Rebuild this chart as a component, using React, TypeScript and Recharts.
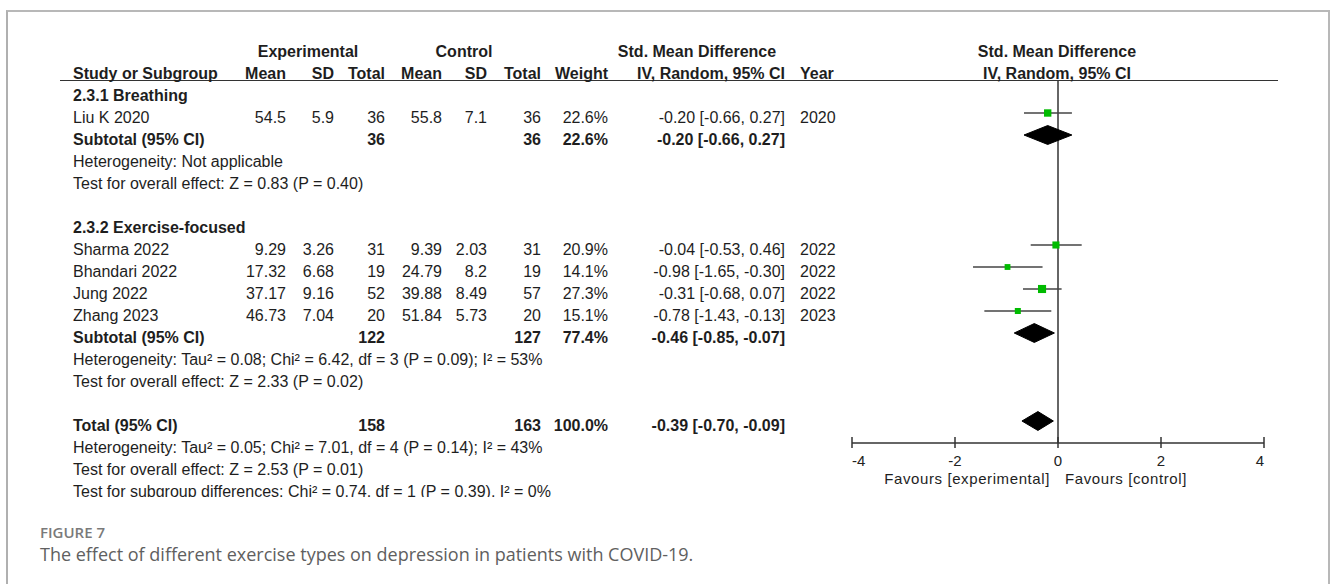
import React from 'react';
import { ComposedChart, Scatter, ErrorBar, XAxis, YAxis, ReferenceLine } from 'recharts';

// study level data
const studyNames = ['Liu K 2020', 'Sharma 2022', 'Bhandari 2022', 'Jung 2022', 'Zhang 2023'];
const studyGroup = [0, 1, 1, 1, 1];
const expMean = [54.5, 9.29, 17.32, 37.17, 46.73];
const expSD = [5.9, 3.26, 6.68, 9.16, 7.04];
const expN = [36, 31, 19, 52, 20];
const ctrlMean = [55.8, 9.39, 24.79, 39.88, 51.84];
const ctrlSD = [7.1, 2.03, 8.2, 8.49, 5.73];
const ctrlN = [36, 31, 19, 57, 20];
const weights = [22.6, 20.9, 14.1, 27.3, 15.1];
const smd = [-0.2, -0.04, -0.98, -0.31, -0.78];
const ciLow = [-0.66, -0.53, -1.65, -0.68, -1.43];
const ciHigh = [0.27, 0.46, -0.3, 0.07, -0.13];
const years = [2020, 2022, 2022, 2022, 2023];

// subgroups
const groupNames = ['2.3.1 Breathing', '2.3.2 Exercise-focused'];
const groupExpN = [36, 122];
const groupCtrlN = [36, 127];
const groupWeight = [22.6, 77.4];
const groupSmd = [-0.2, -0.46];
const groupLow = [-0.66, -0.85];
const groupHigh = [0.27, -0.07];
const groupHet = [
  'Heterogeneity: Not applicable',
  'Heterogeneity: Tau² = 0.08; Chi² = 6.42, df = 3 (P = 0.09); I² = 53%',
];
const groupTest = ['Test for overall effect: Z = 0.83 (P = 0.40)', 'Test for overall effect: Z = 2.33 (P = 0.02)'];

// overall
const totalExpN = 158;
const totalCtrlN = 163;
const totalWeight = 100.0;
const totalSmd = -0.39;
const totalLow = -0.7;
const totalHigh = -0.09;
const totalNotes = [
  'Heterogeneity: Tau² = 0.05; Chi² = 7.01, df = 4 (P = 0.14); I² = 43%',
  'Test for overall effect: Z = 2.53 (P = 0.01)',
  'Test for subgroup differences: Chi² = 0.74, df = 1 (P = 0.39), I² = 0%',
];

const xTicks = [-4, -2, 0, 2, 4];

const FONT = '"Liberation Sans", Arial, sans-serif';
const ROW0 = 96;
const ROW_H = 22;
const COL = { label: 73, eMean: 286, eSD: 334, eN: 385, cMean: 442, cSD: 487, cN: 541, weight: 608, ci: 785, year: 800 };
const PLOT_MID = 1057;

type Cell = { text: string; x: number; row: number; align: 'left' | 'right' | 'center'; bold?: boolean };

const fmtCI = (m: number, lo: number, hi: number) => `${m.toFixed(2)} [${lo.toFixed(2)}, ${hi.toFixed(2)}]`;
const pct = (w: number) => `${w.toFixed(1)}%`;

const cells: Cell[] = [];
const studyPoints: any[] = [];
const diamonds: { row: number; lo: number; pt: number; hi: number }[] = [];

const add = (text: string, x: number, row: number, align: Cell['align'], bold = false) =>
  cells.push({ text, x, row, align, bold });

// header
add('Experimental', 308, -2, 'center', true);
add('Control', 464, -2, 'center', true);
add('Std. Mean Difference', 697, -2, 'center', true);
add('Std. Mean Difference', PLOT_MID, -2, 'center', true);
add('Study or Subgroup', COL.label, -1, 'left', true);
add('Mean', COL.eMean, -1, 'right', true);
add('SD', COL.eSD, -1, 'right', true);
add('Total', COL.eN, -1, 'right', true);
add('Mean', COL.cMean, -1, 'right', true);
add('SD', COL.cSD, -1, 'right', true);
add('Total', COL.cN, -1, 'right', true);
add('Weight', COL.weight, -1, 'right', true);
add('IV, Random, 95% CI', COL.ci, -1, 'right', true);
add('Year', COL.year, -1, 'left', true);
add('IV, Random, 95% CI', PLOT_MID, -1, 'center', true);

let r = 0;
groupNames.forEach((g, gi) => {
  add(g, COL.label, r, 'left', true);
  r++;
  studyNames.forEach((s, i) => {
    if (studyGroup[i] !== gi) return;
    add(s, COL.label, r, 'left');
    add(String(expMean[i]), COL.eMean, r, 'right');
    add(String(expSD[i]), COL.eSD, r, 'right');
    add(String(expN[i]), COL.eN, r, 'right');
    add(String(ctrlMean[i]), COL.cMean, r, 'right');
    add(String(ctrlSD[i]), COL.cSD, r, 'right');
    add(String(ctrlN[i]), COL.cN, r, 'right');
    add(pct(weights[i]), COL.weight, r, 'right');
    add(fmtCI(smd[i], ciLow[i], ciHigh[i]), COL.ci, r, 'right');
    add(String(years[i]), COL.year, r, 'left');
    studyPoints.push({ x: smd[i], y: r, w: weights[i], err: [smd[i] - ciLow[i], ciHigh[i] - smd[i]] });
    r++;
  });
  add('Subtotal (95% CI)', COL.label, r, 'left', true);
  add(String(groupExpN[gi]), COL.eN, r, 'right', true);
  add(String(groupCtrlN[gi]), COL.cN, r, 'right', true);
  add(pct(groupWeight[gi]), COL.weight, r, 'right', true);
  add(fmtCI(groupSmd[gi], groupLow[gi], groupHigh[gi]), COL.ci, r, 'right', true);
  diamonds.push({ row: r, lo: groupLow[gi], pt: groupSmd[gi], hi: groupHigh[gi] });
  r++;
  add(groupHet[gi], COL.label, r++, 'left');
  add(groupTest[gi], COL.label, r++, 'left');
  r++;
});
add('Total (95% CI)', COL.label, r, 'left', true);
add(String(totalExpN), COL.eN, r, 'right', true);
add(String(totalCtrlN), COL.cN, r, 'right', true);
add(pct(totalWeight), COL.weight, r, 'right', true);
add(fmtCI(totalSmd, totalLow, totalHigh), COL.ci, r, 'right', true);
diamonds.push({ row: r, lo: totalLow, pt: totalSmd, hi: totalHigh });
r++;
totalNotes.forEach((t) => add(t, COL.label, r++, 'left'));

const DIAMOND_H = 0.43;
const diamondData = (d: { row: number; lo: number; pt: number; hi: number }) => [
  { x: d.lo, y: d.row },
  { x: d.pt, y: d.row - DIAMOND_H },
  { x: d.hi, y: d.row },
  { x: d.pt, y: d.row + DIAMOND_H },
  { x: d.lo, y: d.row },
];

const Square = (props: any) => {
  const { cx, cy, payload } = props;
  const s = Math.sqrt(payload.w) * 1.55;
  return <rect x={cx - s / 2} y={cy - s / 2} width={s} height={s} fill="#00bb00" />;
};

const AxisTick = (props: any) => {
  const { x, y, payload } = props;
  const v = payload.value;
  const anchor = v === xTicks[0] ? 'start' : v === xTicks[xTicks.length - 1] ? 'end' : 'middle';
  return (
    <g>
      <line x1={x} x2={x} y1={y - 6} y2={y + 5} stroke="#333" strokeWidth={1.5} />
      <text x={x} y={y + 17} textAnchor={anchor} dominantBaseline="central" fontSize={15} fill="#222" fontFamily={FONT}>
        {String(v)}
      </text>
    </g>
  );
};

const cellStyle = (c: Cell): React.CSSProperties => ({
  position: 'absolute',
  left: c.x,
  top: ROW0 + ROW_H * c.row - 11,
  lineHeight: '22px',
  fontSize: 16,
  fontWeight: c.bold ? 700 : 400,
  whiteSpace: 'nowrap',
  transform: c.align === 'right' ? 'translateX(-100%)' : c.align === 'center' ? 'translateX(-50%)' : undefined,
});

export default function App() {
  return (
    <div style={{ position: 'absolute', left: 0, top: 0, width: 1330, height: 584, overflow: 'hidden', background: '#fff' }}>
      <div
        style={{
          position: 'absolute',
          left: 6,
          top: 10,
          width: 1320,
          height: 620,
          borderLeft: '2px solid #b0b0b0',
          borderTop: '2px solid #b8b8b8',
          borderRight: '2px solid #b8b8b8',
        }}
      />
      <div style={{ position: 'absolute', left: 0, top: 0 }}>
        <ComposedChart width={1330} height={584} margin={{ top: 69, right: 66, bottom: 111, left: 852 }}>
          <XAxis
            type="number"
            dataKey="x"
            domain={[-4, 4]}
            ticks={xTicks}
            allowDataOverflow
            height={30}
            tickSize={0}
            tickMargin={0}
            tickLine={false}
            axisLine={{ stroke: '#333', strokeWidth: 1.5 }}
            tick={<AxisTick />}
          />
          <YAxis type="number" dataKey="y" domain={[-1, 16]} reversed hide allowDataOverflow width={0} />
          <ReferenceLine
            segment={[
              { x: 0, y: -0.5 },
              { x: 0, y: 16 },
            ]}
            stroke="#333"
            strokeWidth={1.5}
          />
          {diamonds.map((d, i) => (
            <Scatter
              key={'d' + i}
              data={diamondData(d)}
              isAnimationActive={false}
              line={{ fill: '#000', stroke: '#000', strokeWidth: 1 }}
              lineType="joint"
              shape={() => <g />}
            />
          ))}
          <Scatter data={studyPoints} isAnimationActive={false} shape={<Square />}>
            <ErrorBar dataKey="err" direction="x" width={0} stroke="#444" strokeWidth={1.5} />
          </Scatter>
        </ComposedChart>
      </div>
      <div
        style={{
          position: 'absolute',
          left: 0,
          top: 0,
          width: 1330,
          height: 497,
          overflow: 'hidden',
          fontFamily: FONT,
          color: '#1e1e1e',
          pointerEvents: 'none',
        }}
      >
        <div style={{ position: 'absolute', left: 60, top: 80, width: 1218, borderTop: '1.5px solid #333' }} />
        {cells.map((c, i) => (
          <div key={i} style={cellStyle(c)}>
            {c.text}
          </div>
        ))}
        <div style={{ position: 'absolute', right: 1330 - 1050, top: 468, fontSize: 15, letterSpacing: 0.6, lineHeight: '22px', whiteSpace: 'nowrap' }}>
          Favours [experimental]
        </div>
        <div style={{ position: 'absolute', left: 1065, top: 468, fontSize: 15, letterSpacing: 0.6, lineHeight: '22px', whiteSpace: 'nowrap' }}>
          Favours [control]
        </div>
      </div>
      <div
        style={{
          position: 'absolute',
          left: 40,
          top: 521,
          fontFamily: '"Open Sans", sans-serif',
          fontSize: 15,
          fontWeight: 600,
          color: '#7a7a7a',
          lineHeight: '22px',
        }}
      >
        FIGURE 7
      </div>
      <div
        style={{
          position: 'absolute',
          left: 40,
          top: 542,
          fontFamily: '"Open Sans", sans-serif',
          fontSize: 18,
          color: '#606060',
          lineHeight: '24px',
          whiteSpace: 'nowrap',
        }}
      >
        The effect of different exercise types on depression in patients with COVID-19.
      </div>
    </div>
  );
}
